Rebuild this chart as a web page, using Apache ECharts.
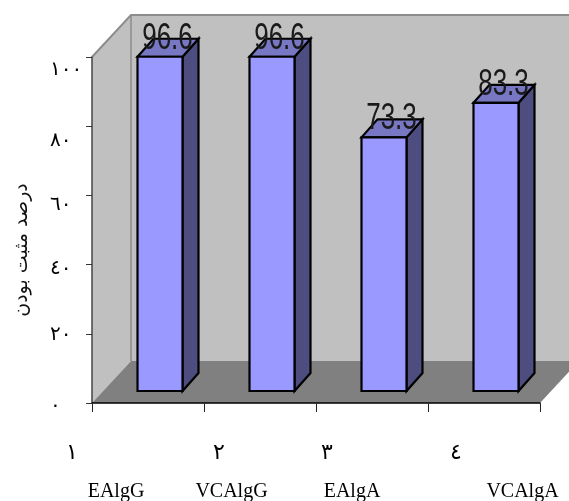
<!DOCTYPE html>
<html><head><meta charset="utf-8">
<style>html,body{margin:0;padding:0;background:#fff}#c{width:569px;height:501px}</style>
<script src="https://cdn.jsdelivr.net/npm/echarts@6/dist/echarts.min.js"></script>
</head><body><div id="c"></div>
<script>
const categories = ['EAlgG','VCAlgG','EAlgA','VCAlgA'];
const indexLabels = ['١','٢','٣','٤'];
const values = [96.6,96.6,73.3,83.3];
const valueTicks = {0:'٠',20:'٢٠',40:'٤٠',60:'٦٠',80:'٨٠',100:'١٠٠'};
const axisTitle = 'درصد مثبت بودن';
const arabicFont = '"DejaVu Sans"';

const wallDx = 39, wallDy = 42, barShift = 12, barLift = 12, halfW = 22.5, depthX = 16, depthY = 18;
const chart = echarts.init(document.getElementById('c'), null, {renderer:'canvas'});
const pts = (a)=>({points:a});

function renderWalls(params, api){
  const o = api.coord([0,0]), t = api.coord([0,100]);
  const left = params.coordSys.x, right = left + params.coordSys.width;
  const bx = left + wallDx, by = o[1]-wallDy, ty = t[1]-wallDy;
  const farX = right + wallDx;
  return {type:'group', children:[
    {type:'rect', shape:{x:bx,y:ty,width:farX-bx,height:by-ty}, style:{fill:'#c0c0c0'}},
    {type:'polygon', shape:pts([[left,t[1]],[bx,ty],[bx,by],[left,o[1]]]), style:{fill:'#c0c0c0'}},
    {type:'polygon', shape:pts([[left,o[1]],[right,o[1]],[farX,by],[bx,by]]), style:{fill:'#808080'}},
    {type:'polyline', shape:pts([[left,t[1]],[bx,ty],[farX,ty]]), style:{fill:'none',stroke:'#8c8c8c',lineWidth:2}},
    {type:'line', shape:{x1:bx,y1:ty,x2:bx,y2:by}, style:{stroke:'#8c8c8c',lineWidth:1.5}}
  ]};
}
function renderBar(params, api){
  const i = api.value(0), v = api.value(1);
  const c = api.coord([i,v]), z = api.coord([i,0]);
  const x0 = c[0]+barShift-halfW, x1 = c[0]+barShift+halfW;
  const y0 = c[1]-barLift, y1 = z[1]-barLift;
  const s = {stroke:'#000',lineWidth:2.2,lineJoin:'miter'};
  return {type:'group', children:[
    {type:'polygon', shape:pts([[x1,y0],[x1+depthX,y0-depthY],[x1+depthX,y1-depthY],[x1,y1]]), style:{...s,fill:'#4d4d80'}},
    {type:'polygon', shape:pts([[x0,y0],[x0+depthX,y0-depthY],[x1+depthX,y0-depthY],[x1,y0]]), style:{...s,fill:'#7777c4'}},
    {type:'rect', shape:{x:x0,y:y0,width:x1-x0,height:y1-y0}, style:{...s,fill:'#9999ff'}},
    {type:'text', x:(x0+x1)/2+7.5, y:y0-18, scaleX:1, scaleY:1.4, originX:0, originY:0,
      style:{text:String(v),font:'26px "Liberation Sans"',fill:'#1a1a1a',align:'center',verticalAlign:'middle'}}
  ]};
}

const rowOneX = [72,219,327,456];
const rowTwoX = [116,231.5,352,522.5];
const tickRich = {};
[0,20,40,60,80,100].forEach(v=>{
  tickRich['t'+v] = {fontFamily:arabicFont,fontSize:20,color:'#000',align:'left',
    padding:[{0:6,20:2,40:8,60:18,80:30,100:26}[v],0,0,0]};
});
chart.setOption({
  animation:false,
  grid:{left:92,right:29,top:57,bottom:98},
  xAxis:{type:'category',data:categories,z:5,
    axisLine:{lineStyle:{color:'#000',width:1.5}},
    axisTick:{show:true,length:9,lineStyle:{color:'#222',width:1}},
    axisLabel:{show:false}},
  yAxis:{type:'value',min:0,max:100,interval:20,z:5,
    name:axisTitle,nameLocation:'middle',nameGap:60,nameRotate:90,
    nameTextStyle:{fontFamily:arabicFont,fontSize:19,color:'#111',padding:[0,40,0,0]},
    axisLine:{show:true,lineStyle:{color:'#444',width:1.5}},
    axisTick:{show:true,length:6,lineStyle:{color:'#333',width:1}},
    splitLine:{show:false},
    axisLabel:{margin:42,align:'left',rich:tickRich,
      formatter:v=>'{t'+v+'|'+valueTicks[v]+'}'}},
  series:[
    {type:'custom',name:'walls',z:1,silent:true,renderItem:renderWalls,data:[[0,0]],encode:{x:0,y:1}},
    {type:'custom',name:'values',z:3,renderItem:renderBar,data:values.map((v,i)=>[i,v]),encode:{x:0,y:1}}
  ],
  graphic:[
    ...indexLabels.map((t,i)=>({type:'text',x:rowOneX[i],y:453,z:10,
      style:{text:t,font:'22px '+arabicFont,fill:'#000',align:'center',verticalAlign:'middle'}})),
    ...categories.map((t,i)=>({type:'text',x:rowTwoX[i],y:492,z:10,
      style:{text:t,font:'20px "Liberation Serif"',fill:'#000',align:'center',verticalAlign:'middle'}}))
  ]
});
</script></body></html>
